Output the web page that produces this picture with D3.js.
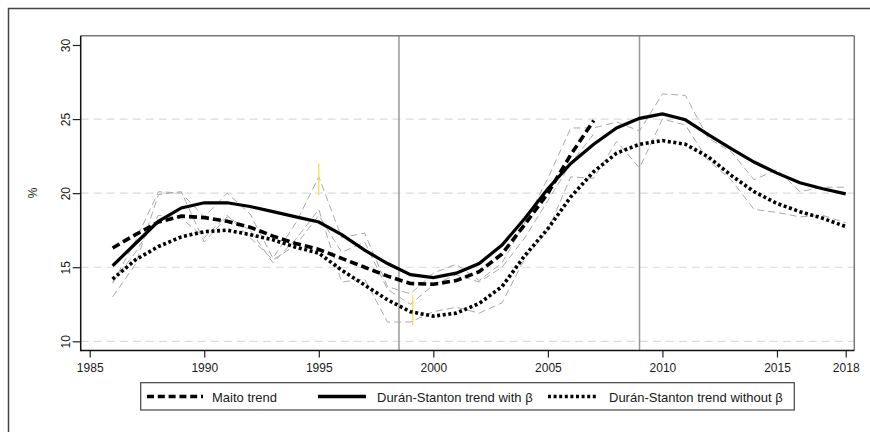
<!DOCTYPE html>
<html><head><meta charset="utf-8">
<script src="https://cdn.jsdelivr.net/npm/d3@7"></script>
<style>
html,body{margin:0;padding:0;background:#fff;}
svg{display:block;font-family:"Liberation Sans",Arial,sans-serif;}
</style></head>
<body>
<svg id="chart" width="870" height="432"></svg>
<script>
const years = [1986,1987,1988,1989,1990,1991,1992,1993,1994,1995,1996,1997,1998,1999,2000,2001,2002,2003,2004,2005,2006,2007,2008,2009,2010,2011,2012,2013,2014,2015,2016,2017,2018];
const maitoYears = [1986,1987,1988,1989,1990,1991,1992,1993,1994,1995,1996,1997,1998,1999,2000,2001,2002,2003,2004,2005,2006,2007];

const maitoTrend = [16.3,17.2,18.05,18.45,18.35,18.1,17.7,17.1,16.6,16.2,15.6,15.0,14.4,13.9,13.85,14.1,14.7,15.9,17.9,20.0,22.6,24.9];
const dsWithBeta = [15.1,16.6,18.1,19.0,19.35,19.35,19.1,18.75,18.4,18.05,17.2,16.15,15.25,14.5,14.3,14.6,15.25,16.5,18.3,20.3,22.0,23.3,24.4,25.05,25.35,24.95,23.95,23.0,22.1,21.35,20.7,20.3,19.95];
const dsWithoutBeta = [14.2,15.5,16.4,17.05,17.4,17.5,17.2,16.85,16.35,15.95,14.8,13.8,12.8,12.0,11.7,11.9,12.55,13.7,15.8,17.6,19.75,21.45,22.7,23.3,23.55,23.3,22.45,21.2,20.1,19.3,18.75,18.3,17.75];

const rawWithBeta = [13.9,16.8,20.1,20.0,18.4,20.0,18.6,15.6,18.0,21.1,17.0,17.3,13.7,13.2,14.6,15.2,14.1,15.3,18.0,21.0,24.4,24.4,24.8,24.2,26.7,26.6,23.7,22.8,20.9,21.6,20.1,20.4,20.4];
const rawWithoutBeta = [13.0,15.2,19.9,20.1,16.7,18.4,17.5,15.3,16.9,18.9,14.0,14.2,11.3,11.3,12.0,12.3,11.9,12.6,15.6,17.5,21.1,21.0,23.5,21.7,25.0,24.6,22.2,20.9,18.9,18.7,18.4,18.5,18.0];
const rawMaito = [14.0,16.0,18.5,18.3,17.0,18.5,17.0,15.5,16.5,18.5,16.0,16.7,13.5,12.5,13.8,14.5,14.0,15.0,17.0,19.5,22.0,24.0];

const yellowYears = [1995,1999.1];
const yellowLow = [19.85,11.1];
const yellowHigh = [22.0,13.1];

const breakYears = [1998.5,2009];
const xTicks = [1985,1990,1995,2000,2005,2010,2015,2018];
const yTicks = [10,15,20,25,30];
const gridValues = [10,15,20,25];
const legendLabels = ["Maito trend","Durán-Stanton trend with β","Durán-Stanton trend without β"];

const svg = d3.select("#chart");
const L = 80.7, R = 854.3, T = 35.7, B = 350.5;
const x = d3.scaleLinear().domain([1985,2018]).range([89.7,845.7]);
const y = d3.scaleLinear().domain([10,30]).range([341.3,45]);

// outer frame
svg.append("rect").attr("x",8.5).attr("y",8.5).attr("width",900).attr("height",500)
  .attr("fill","none").attr("stroke","#444").attr("stroke-width",1.5);

// grid
svg.append("g").selectAll("line").data(gridValues).join("line")
  .attr("x1",L).attr("x2",R).attr("y1",d=>y(d)).attr("y2",d=>y(d))
  .attr("stroke","#dcdcdc").attr("stroke-width",1.2).attr("stroke-dasharray","8,5");

// break lines
svg.append("g").selectAll("line").data(breakYears).join("line")
  .attr("x1",d=>x(d)).attr("x2",d=>x(d)).attr("y1",T).attr("y2",B)
  .attr("stroke","#999").attr("stroke-width",1.5);

// raw gray dashed
function lineFor(xs){ return d3.line().x((d,i)=>x(xs[i])).y(d=>y(d)).curve(d3.curveLinear); }
const lYears = lineFor(years), lMaito = lineFor(maitoYears);
[[rawWithBeta,lYears],[rawWithoutBeta,lYears],[rawMaito,lMaito]].forEach(([v,l])=>{
  svg.append("path").attr("d",l(v)).attr("fill","none").attr("stroke","#aaa")
    .attr("stroke-width",1).attr("stroke-dasharray","7,4");
});

// yellow marks
svg.append("g").selectAll("line").data(yellowYears).join("line")
  .attr("x1",d=>x(d)).attr("x2",d=>x(d))
  .attr("y1",(d,i)=>y(yellowLow[i])).attr("y2",(d,i)=>y(yellowHigh[i]))
  .attr("stroke","#f3e24a").attr("stroke-width",1.3);

// trend lines
svg.append("path").attr("d",lYears(dsWithoutBeta)).attr("fill","none").attr("stroke","#000")
  .attr("stroke-width",3.6).attr("stroke-dasharray","3,2.6");
svg.append("path").attr("d",lMaito(maitoTrend)).attr("fill","none").attr("stroke","#000")
  .attr("stroke-width",3.6).attr("stroke-dasharray","8,4");
svg.append("path").attr("d",lYears(dsWithBeta)).attr("fill","none").attr("stroke","#000")
  .attr("stroke-width",3.2);

// frame top/right
svg.append("line").attr("x1",L).attr("x2",R).attr("y1",T).attr("y2",T).attr("stroke","#777").attr("stroke-width",1.5);
svg.append("line").attr("x1",R).attr("x2",R).attr("y1",T).attr("y2",B).attr("stroke","#777").attr("stroke-width",1.5);

// axes
const xa = svg.append("g").attr("transform",`translate(0,${B})`)
  .call(d3.axisBottom(x).tickValues(xTicks).tickFormat(d3.format("d")).tickSize(7).tickPadding(6).tickSizeOuter(0));
xa.select(".domain").remove();
xa.selectAll("line").attr("stroke","#222").attr("stroke-width",1.2);
xa.selectAll("text").attr("font-size",12).attr("fill","#1a1a1a").attr("font-family","Liberation Sans, Arial, sans-serif");

const ya = svg.append("g").attr("transform",`translate(${L},0)`)
  .call(d3.axisLeft(y).tickValues(yTicks).tickSize(8).tickSizeOuter(0));
ya.select(".domain").remove();
ya.selectAll("line").attr("stroke","#222").attr("stroke-width",1.2);
ya.selectAll("text").attr("x",null).attr("dy",null).attr("text-anchor","middle")
  .attr("transform","translate(-10.5,0) rotate(-90)")
  .attr("font-size",12).attr("fill","#1a1a1a").attr("font-family","Liberation Sans, Arial, sans-serif");

svg.append("line").attr("x1",L).attr("x2",L).attr("y1",T).attr("y2",B+0.75).attr("stroke","#111").attr("stroke-width",1.5);
svg.append("line").attr("x1",L).attr("x2",R).attr("y1",B).attr("y2",B).attr("stroke","#111").attr("stroke-width",1.5);

svg.append("text").attr("transform","translate(37,193) rotate(-90)").attr("text-anchor","middle")
  .attr("font-size",12).attr("fill","#1a1a1a").text("%");

// legend
const lg = svg.append("g");
lg.append("rect").attr("x",140.7).attr("y",382.7).attr("width",653.6).attr("height",27.3)
  .attr("fill","#fff").attr("stroke","#444").attr("stroke-width",1.2);
const legendStyles = [
  {x1:147,x2:203,tx:212,dash:"7,3.8",w:3.6},
  {x1:318,x2:366,tx:377,dash:null,w:3.4},
  {x1:548,x2:598,tx:609,dash:"3,2.6",w:3.6}
];
legendLabels.forEach((t,i)=>{
  const s = legendStyles[i];
  const ln = lg.append("line").attr("x1",s.x1).attr("x2",s.x2).attr("y1",396.5).attr("y2",396.5)
    .attr("stroke","#000").attr("stroke-width",s.w);
  if(s.dash) ln.attr("stroke-dasharray",s.dash);
  lg.append("text").attr("x",s.tx).attr("y",401.5).attr("font-size",13).attr("fill","#1a1a1a").text(t);
});
</script>
</body></html>
